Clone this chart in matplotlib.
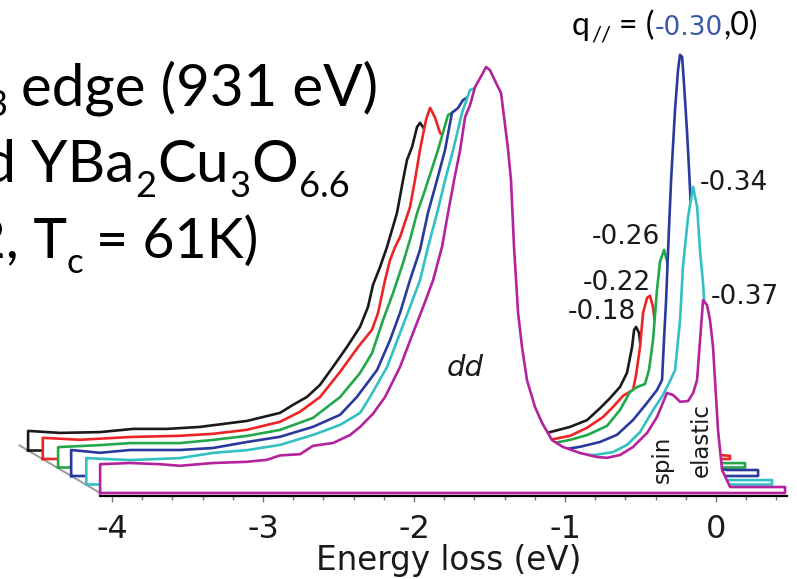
import matplotlib.pyplot as plt
import matplotlib.transforms as mtrans
import numpy as np

plt.rcParams['axes.unicode_minus'] = False

# RIXS spectra at the Cu L3 edge, one per in-plane momentum (front to back)
q_labels = ['-0.37', '-0.34', '-0.30', '-0.26', '-0.22', '-0.18']
colors = ['#b4229c', '#33c0c4', '#2a3a9c', '#22a84a', '#ee2424', '#1a1a1a']

# q = -0.37 (front)
e_37 = [-4.079, -3.881, -3.682, -3.550, -3.331, -3.106, -2.974, -2.887, -2.755, -2.669,
        -2.536, -2.424, -2.358, -2.272, -2.192, -2.093, -2.007, -1.940, -1.874, -1.815,
        -1.775, -1.735, -1.695, -1.662, -1.629, -1.596, -1.563, -1.523, -1.497, -1.457,
        -1.424, -1.404, -1.377, -1.358, -1.338, -1.311, -1.285, -1.252, -1.199, -1.152,
        -1.086, -1.013, -0.901, -0.788, -0.722, -0.636, -0.550, -0.457, -0.391, -0.325,
        -0.285, -0.238, -0.185, -0.152, -0.126, -0.106, -0.086, -0.060, -0.040, -0.020,
        -0.007, 0.013, 0.040, 0.093, 0.457]
i_37 = [0.072, 0.075, 0.072, 0.068, 0.075, 0.078, 0.083, 0.094, 0.097, 0.118,
        0.125, 0.145, 0.165, 0.198, 0.240, 0.315, 0.400, 0.465, 0.532, 0.615,
        0.700, 0.782, 0.857, 0.940, 0.970, 1.015, 1.037, 1.065, 1.057, 1.025,
        1.000, 0.940, 0.857, 0.782, 0.615, 0.450, 0.365, 0.282, 0.215, 0.175,
        0.132, 0.115, 0.100, 0.090, 0.088, 0.095, 0.115, 0.150, 0.190, 0.250,
        0.245, 0.228, 0.230, 0.250, 0.282, 0.382, 0.482, 0.470, 0.432, 0.365,
        0.282, 0.157, 0.057, 0.015, 0.015]

# q = -0.34
e_34 = [-4.075, -3.786, -3.454, -3.235, -3.010, -2.792, -2.573, -2.395, -2.262, -2.196,
        -2.083, -1.997, -1.931, -1.865, -1.812, -1.752, -1.699, -1.646, -1.587, -1.534,
        -1.501, -1.46, -1.42, -1.38, -1.34, -1.30, -1.25, -1.18, -1.10, -0.95,
        -0.825, -0.706, -0.587, -0.494, -0.408, -0.322, -0.256, -0.222, -0.176, -0.143,
        -0.124, -0.090, -0.057, -0.030, -0.011, 0.009, 0.029, 0.055, 0.082, 0.121,
        0.155, 0.466]
i_34 = [0.066, 0.061, 0.066, 0.079, 0.086, 0.099, 0.124, 0.149, 0.179, 0.219,
        0.294, 0.379, 0.444, 0.511, 0.594, 0.679, 0.761, 0.836, 0.929, 0.986,
        0.991, 0.98, 0.94, 0.82, 0.62, 0.43, 0.28, 0.19, 0.14, 0.09,
        0.074, 0.074, 0.081, 0.099, 0.131, 0.186, 0.224, 0.249, 0.286, 0.411,
        0.544, 0.669, 0.744, 0.694, 0.586, 0.504, 0.386, 0.211, 0.086, 0.024,
        0.011, 0.011]

# q = -0.30
e_30 = [-4.080, -3.889, -3.690, -3.359, -3.141, -2.916, -2.697, -2.478, -2.299, -2.187,
        -2.054, -1.968, -1.902, -1.836, -1.770, -1.717, -1.657, -1.604, -1.558, -1.518,
        -1.485, -1.44, -1.40, -1.36, -1.32, -1.28, -1.23, -1.16, -1.08, -0.95,
        -0.843, -0.710, -0.578, -0.465, -0.359, -0.266, -0.200, -0.167, -0.154, -0.140,
        -0.127, -0.107, -0.081, -0.061, -0.048, -0.034, -0.021, -0.001, 0.012, 0.038,
        0.065, 0.098, 0.131, 0.184, 0.264, 0.469]
i_30 = [0.065, 0.058, 0.065, 0.065, 0.070, 0.085, 0.098, 0.123, 0.153, 0.198,
        0.265, 0.340, 0.408, 0.490, 0.565, 0.658, 0.740, 0.815, 0.908, 0.920,
        0.940, 0.95, 0.93, 0.85, 0.65, 0.45, 0.30, 0.20, 0.15, 0.09,
        0.065, 0.073, 0.085, 0.103, 0.140, 0.183, 0.215, 0.240, 0.340, 0.440,
        0.565, 0.740, 0.915, 1.015, 1.053, 1.048, 0.978, 0.858, 0.765, 0.565,
        0.365, 0.165, 0.053, 0.020, 0.015, 0.015]

# q = -0.26
e_26 = [-4.071, -3.793, -3.595, -3.264, -3.045, -2.820, -2.601, -2.383, -2.204, -2.072,
        -1.992, -1.919, -1.853, -1.787, -1.741, -1.694, -1.641, -1.555, -1.489, -1.45,
        -1.40, -1.36, -1.32, -1.28, -1.23, -1.16, -1.08, -0.95, -0.793, -0.681,
        -0.568, -0.436, -0.350, -0.283, -0.237, -0.184, -0.158, -0.131, -0.105, -0.085,
        -0.058, -0.038, -0.012, 0.021, 0.054, 0.114, 0.333, 0.478]
i_26 = [0.051, 0.056, 0.061, 0.061, 0.069, 0.079, 0.094, 0.124, 0.176, 0.236,
        0.286, 0.369, 0.436, 0.511, 0.569, 0.636, 0.694, 0.794, 0.881, 0.89,
        0.86, 0.78, 0.58, 0.40, 0.27, 0.18, 0.14, 0.08, 0.061, 0.069,
        0.081, 0.104, 0.144, 0.189, 0.201, 0.209, 0.244, 0.319, 0.444, 0.514,
        0.544, 0.514, 0.369, 0.169, 0.069, 0.019, 0.011, 0.011]

# q = -0.22
e_22 = [-4.077, -3.831, -3.500, -3.169, -2.950, -2.725, -2.506, -2.374, -2.241, -2.108,
        -1.989, -1.897, -1.857, -1.810, -1.777, -1.744, -1.711, -1.645, -1.612, -1.579,
        -1.539, -1.512, -1.479, -1.446, -1.40, -1.36, -1.32, -1.28, -1.23, -1.16,
        -1.08, -0.90, -0.718, -0.585, -0.473, -0.367, -0.301, -0.234, -0.168, -0.148,
        -0.122, -0.102, -0.075, -0.056, -0.036, -0.009, 0.024, 0.057, 0.110, 0.474]
i_22 = [0.053, 0.048, 0.055, 0.058, 0.063, 0.073, 0.093, 0.118, 0.155, 0.218,
        0.280, 0.323, 0.365, 0.448, 0.498, 0.530, 0.555, 0.630, 0.698, 0.773,
        0.848, 0.878, 0.853, 0.815, 0.80, 0.72, 0.55, 0.38, 0.26, 0.17,
        0.13, 0.07, 0.048, 0.058, 0.078, 0.105, 0.130, 0.158, 0.173, 0.210,
        0.280, 0.365, 0.403, 0.408, 0.380, 0.298, 0.148, 0.048, 0.018, 0.008]

# q = -0.18 (back)
e_18 = [-4.079, -3.868, -3.603, -3.384, -3.159, -2.940, -2.629, -2.411, -2.325, -2.232,
        -2.146, -2.060, -1.967, -1.881, -1.828, -1.795, -1.748, -1.702, -1.636, -1.596,
        -1.570, -1.536, -1.503, -1.483, -1.464, -1.42, -1.38, -1.34, -1.30, -1.25,
        -1.18, -1.10, -0.95, -0.80, -0.642, -0.490, -0.377, -0.291, -0.225, -0.159,
        -0.113, -0.079, -0.066, -0.053, -0.033, -0.007, 0.026, 0.073, 0.477]
i_18 = [0.049, 0.044, 0.046, 0.054, 0.054, 0.059, 0.074, 0.094, 0.114, 0.134,
        0.164, 0.209, 0.259, 0.309, 0.359, 0.414, 0.459, 0.509, 0.594, 0.676,
        0.726, 0.759, 0.809, 0.819, 0.809, 0.78, 0.70, 0.52, 0.36, 0.25,
        0.17, 0.12, 0.07, 0.048, 0.044, 0.059, 0.076, 0.106, 0.131, 0.159,
        0.194, 0.259, 0.301, 0.309, 0.294, 0.200, 0.076, 0.021, 0.009]

energies = [e_37, e_34, e_30, e_26, e_22, e_18]
intensities = [i_37, i_34, i_30, i_26, i_22, i_18]

# waterfall step between successive spectra
dx, dy = -0.0954, 0.02125

W, H = 797, 579
fig = plt.figure(figsize=(W / 100, H / 100), dpi=100)
ax = fig.add_axes([0, 0, 1, 1])
ax.set_xlim(-4.742, 0.536)
ax.set_ylim(-0.215, 1.2325)

# depth edge of the waterfall floor
k_edge = np.array([0, 5.6])
ax.plot(-4.079 + k_edge * dx, k_edge * dy, color='#9a9a9a', lw=1.4, zorder=1)

# back to front so each white-filled spectrum hides the ones behind it
for k in range(5, -1, -1):
    e = np.array(energies[k]) + k * dx
    y = np.array(intensities[k]) + k * dy
    px = np.concatenate([[e[0]], e, [e[-1], e[0]]])
    py = np.concatenate([[k * dy], y, [k * dy, k * dy]])
    ax.fill(px, py, color='white', zorder=2 + 2 * (5 - k))
    ax.plot(px, py, color=colors[k], lw=1.9, solid_joinstyle='round',
            zorder=3 + 2 * (5 - k))

# energy axis
for s in ['top', 'right', 'left']:
    ax.spines[s].set_visible(False)
ax.spines['bottom'].set_position(('data', -0.008))
ax.spines['bottom'].set_bounds(-4.08, 0.47)
ax.spines['bottom'].set_linewidth(1.6)
ax.spines['bottom'].set_zorder(20)
ax.set_xticks([-4, -3, -2, -1, 0])
ax.set_xticks(np.arange(-4.0, 0.41, 0.2), minor=True)
ax.set_yticks([])
ax.tick_params(axis='x', which='both', direction='out', length=3, width=1,
               color='#777777', labelsize=23, pad=9, labelcolor='#1a1a1a')
ax.tick_params(axis='x', which='major', length=4)
ax.patch.set_visible(False)
ax.text(-1.768, -0.168, 'Energy loss (eV)', fontsize=23.5, ha='center', va='center',
        color='#1a1a1a')

# peak labels
lab_font = dict(fontsize=19, color='#1a1a1a', ha='center', va='center', zorder=30)
ax.text(0.119, 0.775, q_labels[1], **lab_font)
ax.text(-0.596, 0.640, q_labels[3], **lab_font)
ax.text(-0.656, 0.525, q_labels[4], **lab_font)
ax.text(-0.755, 0.452, q_labels[5], **lab_font)
ax.text(0.192, 0.490, q_labels[0], **lab_font)

ax.text(-1.662, 0.312, 'dd', fontsize=21, style='italic', color='#1a1a1a',
        ha='center', va='center', zorder=30)
ax.text(-0.358, 0.083, 'spin', fontsize=16.5, rotation=90, color='#1a1a1a',
        ha='center', va='center', zorder=30)
ax.text(-0.099, 0.133, 'elastic', fontsize=16.5, rotation=90, color='#1a1a1a',
        ha='center', va='center', zorder=30)

# text with subscripts, laid out run by run from its right end (pixel coords)
renderer = fig.canvas.get_renderer()
pix = mtrans.IdentityTransform()


def rich_line(x_right, y_base, runs):
    # run = (text, size in pt, drop below baseline in px, gap before it in px,
    #        font family, colour)
    x = x_right
    for s, fs, drop, gap, fam, col in reversed(runs):
        t = fig.text(x, H - (y_base + drop), s, transform=pix, family=fam,
                     fontsize=fs, color=col, ha='right', va='baseline', zorder=40)
        x -= t.get_window_extent(renderer).width + gap


rich_line(378, 105, [('Cu L', 42, 0, 0, 'Lato', 'black'),
                     ('3', 26, 11, 1, 'Lato', 'black'),
                     ('edge (931 eV)', 42, 0, 13, 'Lato', 'black')])
rich_line(350, 182, [('underdoped YBa', 42, 0, 0, 'Lato', 'black'),
                     ('2', 26, 15, 1, 'Lato', 'black'),
                     ('Cu', 42, 0, 1, 'Lato', 'black'),
                     ('3', 26, 15, 1, 'Lato', 'black'),
                     ('O', 42, 0, 1, 'Lato', 'black'),
                     ('6.6', 26, 15, 1, 'Lato', 'black')])
rich_line(258, 258, [('(p = 0.12, T', 41, 0, 0, 'Lato', 'black'),
                     ('c', 25, 15, 0, 'Lato', 'black'),
                     ('= 61K)', 40, 0, 12, 'Lato', 'black')])

# momentum of the tallest spectrum
rich_line(758, 35, [('q', 23, 0, 0, 'Lato', 'black'),
                    ('//', 16, 6, 1, 'Lato', 'black'),
                    ('= (', 23, 0, 8, 'Lato', 'black'),
                    (q_labels[2], 19, 0, 1, 'DejaVu Sans', '#3a5aa8'),
                    (',0)', 23, 0, 0, 'Lato', 'black')])

fig.savefig('out.png', dpi=100)
